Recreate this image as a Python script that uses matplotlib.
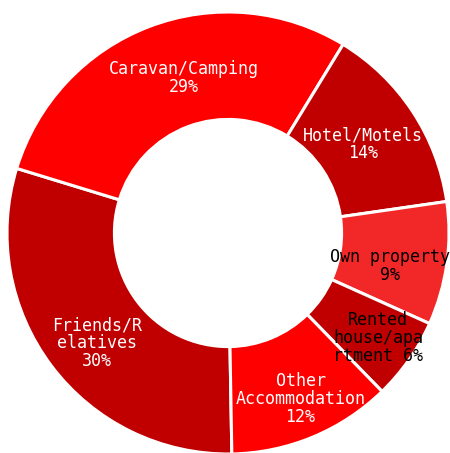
import matplotlib

matplotlib.use("Agg")
import matplotlib.pyplot as plt
import numpy as np

# accommodation shares, drawn clockwise from the bottom
categories = [
    "Friends/Relatives",
    "Caravan/Camping",
    "Hotel/Motels",
    "Own property",
    "Rented house/apartment",
    "Other Accommodation",
]
shares = [30, 29, 14, 9, 6, 12]
label_texts = [
    "Friends/R\nelatives\n30%",
    "Caravan/Camping\n29%",
    "Hotel/Motels\n14%",
    "Own property\n9%",
    "Rented\nhouse/apa\nrtment 6%",
    "Other\nAccommodation\n12%",
]

colors = ["#c00000", "#ff0000", "#c00000", "#f22828", "#c00000", "#ff0000"]
text_colors = ["white", "white", "white", "black", "black", "white"]
# radial position (fraction of radius) and angle nudge for each label
label_radius = [0.775, 0.73, 0.73, 0.75, 0.83, 0.82]
label_nudge = [3, -5, 0, -3.5, 0, 1]

W, H = 450, 453
cx, cy, R = 228, 233, 221

fig = plt.figure(figsize=(W / 100, H / 100), dpi=100)
ax = fig.add_axes([0, 0, 1, 1])
wedges, _ = ax.pie(
    shares,
    colors=colors,
    startangle=-89,
    counterclock=False,
    radius=1.0,
    wedgeprops=dict(width=0.486, edgecolor="white", linewidth=2.2),
)

for w, txt, tc, r, dn in zip(wedges, label_texts, text_colors, label_radius, label_nudge):
    mid = np.deg2rad((w.theta1 + w.theta2) / 2 + dn)
    ax.text(
        r * np.cos(mid),
        r * np.sin(mid),
        txt,
        ha="center",
        va="center",
        color=tc,
        fontsize=12,
        family="DejaVu Sans Mono",
        linespacing=0.98,
    )

ax.set_xlim(-cx / R, (W - cx) / R)
ax.set_ylim(-(H - cy) / R, cy / R)
ax.set_aspect("auto")
ax.axis("off")
fig.savefig("out.png", dpi=100)
plt.close(fig)
